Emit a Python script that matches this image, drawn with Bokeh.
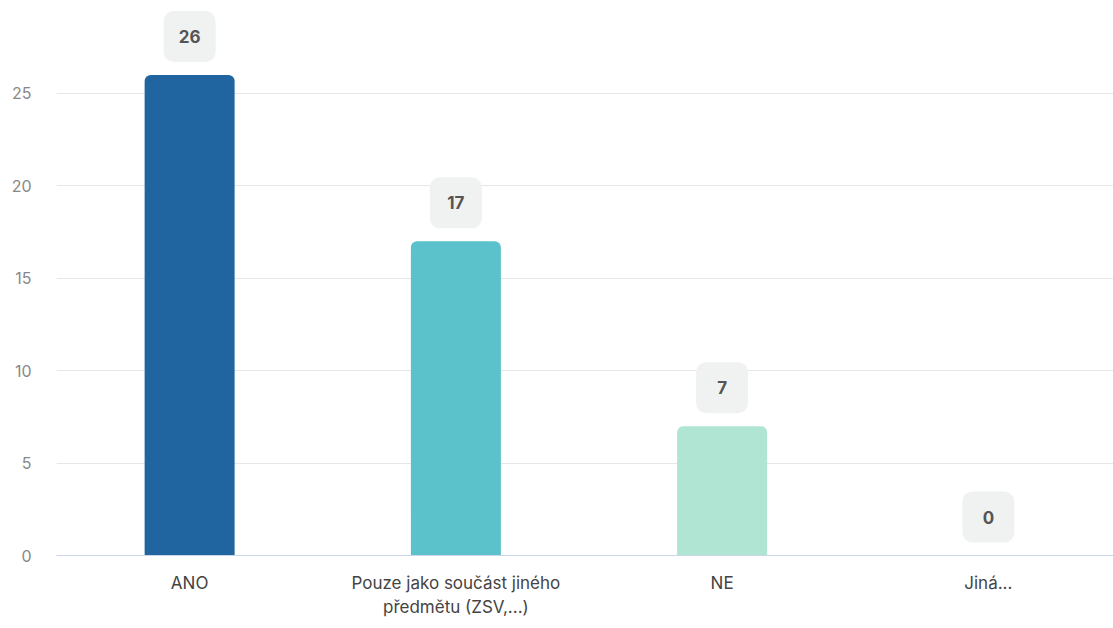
from bokeh.plotting import figure
from bokeh.embed import file_html
from bokeh.resources import INLINE
from bokeh.models import ColumnDataSource, FixedTicker
from bokeh.core.properties import value

categories = ["ANO", "Pouze jako součást jiného\npředmětu (ZSV,...)", "NE", "Jiná..."]
counts = [26, 17, 7, 0]
colors = ["#2065a0", "#5bc2cc", "#b0e5d4", "#b0e5d4"]
y_ticks = [0, 5, 10, 15, 20, 25]

FONT = "Inter"
W, H = 1113, 628
BL, BB, BT, BR = 56, 73, 0, 0
Y0, Y1 = 0, 30.03
frame_h = H - BB - BT
px = (Y1 - Y0) / frame_h

xs = list(range(len(categories)))
label_y = [c + 38.5 * px for c in counts]
src = ColumnDataSource(dict(x=xs, top=counts, color=colors,
                            label=[str(c) for c in counts], ly=label_y))

p = figure(width=W, height=H, output_backend="svg", toolbar_location=None,
           x_range=(-0.5, 3.47), y_range=(Y0, Y1),
           min_border_left=BL, min_border_bottom=BB, min_border_top=BT,
           min_border_right=BR)
p.outline_line_color = None
p.background_fill_color = "white"
p.border_fill_color = "white"

p.vbar(x="x", top="top", width=0.338, bottom=0, source=src,
       fill_color="color", line_color=None, border_radius=(6, 6, 0, 0))

p.rect(x="x", y="ly", width=52, height=51, width_units="screen",
       height_units="screen", source=src, fill_color="#f0f1f1",
       line_color=None, border_radius=10)
p.text(x="x", y="ly", text="label", source=src, text_align="center",
       text_baseline="middle", text_font=value(FONT), text_font_style="bold",
       text_font_size="17px", text_color="#555555")

p.xgrid.grid_line_color = None
p.ygrid.grid_line_color = "#e6e6e6"
p.ygrid.grid_line_width = 1
p.yaxis.ticker = FixedTicker(ticks=y_ticks)
p.xaxis.ticker = FixedTicker(ticks=xs)
p.xaxis.major_label_overrides = {i: c for i, c in enumerate(categories)}

p.yaxis.axis_line_color = None
p.yaxis.major_tick_line_color = None
p.yaxis.minor_tick_line_color = None
p.yaxis.major_tick_out = 0
p.yaxis.minor_tick_out = 0
p.yaxis.major_label_standoff = 25
p.yaxis.major_label_text_font = FONT
p.yaxis.major_label_text_font_size = "16px"
p.yaxis.major_label_text_color = "#888888"

p.xaxis.axis_line_color = "#ccd6eb"
p.xaxis.axis_line_width = 1
p.xaxis.major_tick_line_color = None
p.xaxis.minor_tick_line_color = None
p.xaxis.major_tick_out = 0
p.xaxis.minor_tick_out = 0
p.xaxis.major_label_standoff = 17
p.xaxis.major_label_text_font = FONT
p.xaxis.major_label_text_font_size = "17px"
p.xaxis.major_label_text_color = "#444444"

open("out.html", "w").write(file_html(p, INLINE))
